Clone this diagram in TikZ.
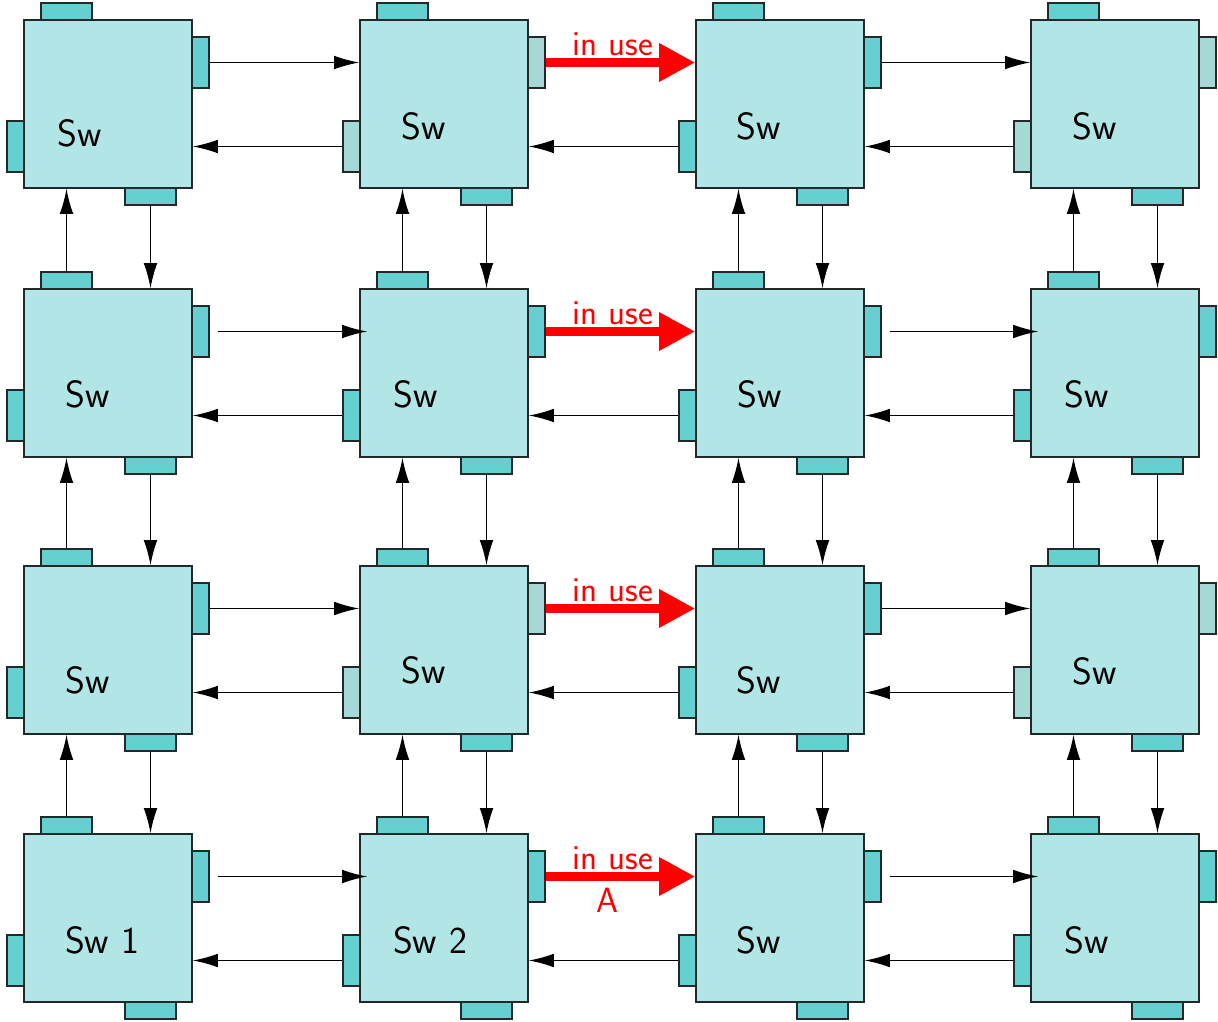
\documentclass[tikz,border=0pt]{standalone}
\usetikzlibrary{arrows.meta,positioning}
\definecolor{swfill}{RGB}{178,230,230}
\definecolor{portteal}{RGB}{102,208,208}
\definecolor{portgrey}{RGB}{166,216,214}
\definecolor{swline}{RGB}{32,42,42}
\tikzset{
  switch/.style={draw=swline, line width=1.1pt, fill=swfill, minimum size=4.2cm, inner sep=0pt},
  porth/.style={draw=swline, line width=1.1pt, fill=#1, minimum width=1.275cm, minimum height=0.425cm, inner sep=0pt},
  portv/.style={draw=swline, line width=1.1pt, fill=#1, minimum width=0.425cm, minimum height=1.275cm, inner sep=0pt},
  link/.style={line width=1pt, -{Latex[length=0.625cm,width=0.34cm]}},
  busy/.style={red, line width=0.23cm, -{Triangle[length=0.9cm,width=0.9cm]}},
  swtext/.style={font=\fontsize{27}{30}\selectfont\sffamily, inner sep=0pt},
  usetext/.style={red, font=\fontsize{25}{29}\selectfont\sffamily, inner sep=0pt}
}
\begin{document}
\begin{tikzpicture}[x=0.025cm, y=-0.025cm]
  \useasboundingbox (0,0) rectangle (1218,1021);
  % switches with their four ports
  \foreach \r/\y in {1/104,2/373,3/650,4/918} {
    \foreach \c/\x in {1/108,2/444,3/780,4/1115} {
      \def\sidecol{portteal}
      \ifodd\r\relax \ifodd\c\relax\else \def\sidecol{portgrey}\fi\fi
      \node[switch] (sw\r\c) at (\x,\y) {};
      \node[porth=portteal] (pt\r\c) at ([shift={(-41.5,-92.5)}]sw\r\c) {};
      \node[porth=portteal] (pb\r\c) at ([shift={(42.5,92.5)}]sw\r\c) {};
      \node[portv=\sidecol] (pr\r\c) at ([shift={(92.5,-41.5)}]sw\r\c) {};
      \node[portv=\sidecol] (pl\r\c) at ([shift={(-92.5,42.5)}]sw\r\c) {};
    }
  }
  % names
  \foreach \n/\x/\y/\t in {a/80/133/Sw, b/424/126/Sw, c/759/126/Sw, d/1095/126/Sw,
      e/88/394/Sw, f/416/394/Sw, g/760/394/Sw, h/1087/394/Sw,
      i/88/680/Sw, j/424/670/Sw, k/759/680/Sw, l/1095/671/Sw,
      m/102/940/Sw 1, n/430/940/Sw 2, o/759/940/Sw, p/1087/940/Sw}
    \node[swtext] (name-\n) at (\x,\y) {\t};
  % links inside a row
  \foreach \r in {1,...,4} {
    \foreach \c/\d in {1/2,3/4} {
      \ifodd\r\relax
        \draw[link] (pr\r\c.east) -- (pr\r\c.east -| sw\r\d.west);
      \else
        \draw[link] ([xshift=0.2cm]pr\r\c.east) -- ([xshift=0.2cm]pr\r\c.east -| sw\r\d.west);
      \fi
    }
    \foreach \c/\d in {1/2,2/3,3/4}
      \draw[link] (pl\r\d.west) -- (pl\r\d.west -| sw\r\c.east);
    \draw[busy] (pr\r2.east) -- (pr\r2.east -| sw\r3.west);
  }
  % links between rows
  \foreach \r/\s in {1/2,2/3,3/4} {
    \foreach \c in {1,...,4} {
      \draw[link] (pt\s\c.north) -- (pt\s\c.north |- sw\r\c.south);
      \draw[link] (pb\r\c.south) -- (pb\r\c.south |- sw\s\c.north);
    }
  }
  % busy labels
  \foreach \r/\y in {1/55,2/324,3/601,4/869}
    \node[usetext, anchor=base] (use\r) at (613,\y) {in use};
  \node[usetext] (tagA) at (607,900) {A};
\end{tikzpicture}
\end{document}
